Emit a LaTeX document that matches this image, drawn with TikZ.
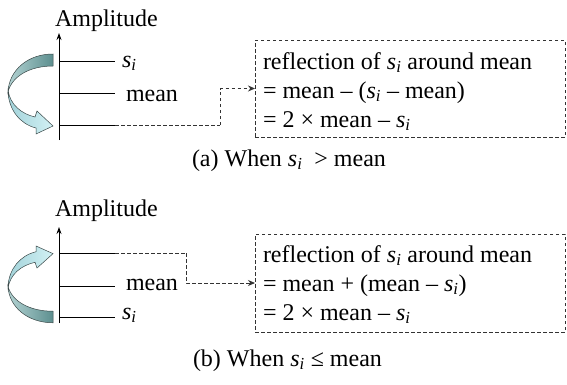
\documentclass[tikz,border=0pt]{standalone}
\usepackage{fontspec}
\setmainfont{Liberation Serif}
\usetikzlibrary{arrows.meta}
\newcommand\ssub{\textit{s}\textsubscript{\textit{i}}}
\definecolor{ribdarkA}{HTML}{5D8F8F}
\definecolor{ribdarkB}{HTML}{B3D3D3}
\definecolor{riblightA}{HTML}{A3D3DA}
\definecolor{riblightB}{HTML}{D2F1F4}
\definecolor{ribedge}{HTML}{3A4848}
\definecolor{dashgray}{HTML}{333333}
\begin{document}
\begin{tikzpicture}[x=1pt,y=-1pt,
  every node/.style={font=\fontsize{24}{28}\selectfont, inner sep=0pt, outer sep=0pt},
  txt/.style={anchor=base west},
  axisline/.style={line width=0.9pt, -{Stealth[length=7pt,width=5pt]}},
  tick/.style={line width=0.9pt},
  conn/.style={line width=0.9pt, dashgray, dash pattern=on 3.5pt off 2.5pt, -{Stealth[length=7pt,width=6pt]}},
  dashline/.style={line width=0.9pt, dashgray, dash pattern=on 3.5pt off 2.5pt},
  boxstyle/.style={draw=dashgray, line width=0.9pt, dash pattern=on 3.5pt off 2.5pt, rectangle, minimum width=310pt},
  ribdark/.style={draw=ribedge, line width=0.5pt, left color=ribdarkB, right color=ribdarkA},
  riblight/.style={draw=ribedge, line width=0.5pt, left color=riblightA, right color=riblightB}
]
\useasboundingbox (0,0) rectangle (567,384);

% ================= panel (a) =================
\node[txt] (ampa) at (55,26) {Amplitude};
\coordinate (axa0) at (59,140);
\coordinate (axa1) at (59,33);
\draw[axisline] (axa0) -- (axa1);
\coordinate (la1s) at (59,61);  \coordinate (la1e) at (115,61);
\coordinate (la2s) at (59,93);  \coordinate (la2e) at (115,93);
\coordinate (la3s) at (59,125); \coordinate (la3e) at (115,125);
\draw[tick] (la1s) -- (la1e);
\draw[tick] (la2s) -- (la2e);
\draw[tick] (la3s) -- (la3e);
\node[txt] (sia) at (122,67) {\ssub};
\node[txt] (meana) at (126,101) {mean};
% ribbon arrow (a)
\begin{scope}[shift={(0,60)}]
  \path[riblight] (8,30) .. controls (10,45) and (22,54) .. (35,57) -- (37,51) -- (53,66) -- (36,74) -- (36,68)
     .. controls (20,64) and (9,50) .. (8,32) -- cycle;
  \path[ribdark] (53,-6) .. controls (28,-6) and (9,10) .. (8,32)
     .. controls (12,16) and (30,6) .. (53,6) -- cycle;
\end{scope}
% box (a)
\node[boxstyle, minimum height=97pt] (boxa) at (410,88.5) {};
\node[txt] (ta1) at (263,69) {reflection of \ssub{} around mean};
\node[txt] (ta2) at (263,98) {= mean – (\ssub{} – mean)};
\node[txt] (ta3) at (263,127) {= 2 × mean – \ssub};
\coordinate (ja) at (220,0);
\draw[dashline] (la3e) -- (la3e -| ja);
\draw[conn] (la3e -| ja) |- (boxa.west);
\node[txt] (capa) at (192,166) {(a) When \ssub\ \ > mean};

% ================= panel (b) =================
\node[txt] (ampb) at (55,216) {Amplitude};
\coordinate (axb0) at (59,323);
\coordinate (axb1) at (59,227);
\draw[axisline] (axb0) -- (axb1);
\coordinate (lb1s) at (59,253); \coordinate (lb1e) at (115,253);
\coordinate (lb2s) at (59,286); \coordinate (lb2e) at (115,286);
\coordinate (lb3s) at (59,317); \coordinate (lb3e) at (115,317);
\draw[tick] (lb1s) -- (lb1e);
\draw[tick] (lb2s) -- (lb2e);
\draw[tick] (lb3s) -- (lb3e);
\node[txt] (meanb) at (126,290) {mean};
\node[txt] (sib) at (122,319) {\ssub};
% ribbon arrow (b)
\begin{scope}[shift={(0,317)}, yscale=-0.96]
  \path[riblight] (8,30) .. controls (10,45) and (22,54) .. (35,57) -- (37,51) -- (53,66) -- (36,74) -- (36,68)
     .. controls (20,64) and (9,50) .. (8,32) -- cycle;
  \path[ribdark] (53,-6) .. controls (28,-6) and (9,10) .. (8,32)
     .. controls (12,16) and (30,6) .. (53,6) -- cycle;
\end{scope}
% box (b)
\node[boxstyle, minimum height=98pt] (boxb) at (410,283) {};
\node[txt] (tb1) at (263,262) {reflection of \ssub{} around mean};
\node[txt] (tb2) at (263,291) {= mean + (mean – \ssub)};
\node[txt] (tb3) at (263,320) {= 2 × mean – \ssub};
\coordinate (jb) at (186,0);
\draw[dashline] (lb1e) -- (lb1e -| jb);
\draw[conn] (lb1e -| jb) |- (boxb.west);
\node[txt] (capb) at (193,366) {(b) When \ssub{} ≤ mean};
\end{tikzpicture}
\end{document}
